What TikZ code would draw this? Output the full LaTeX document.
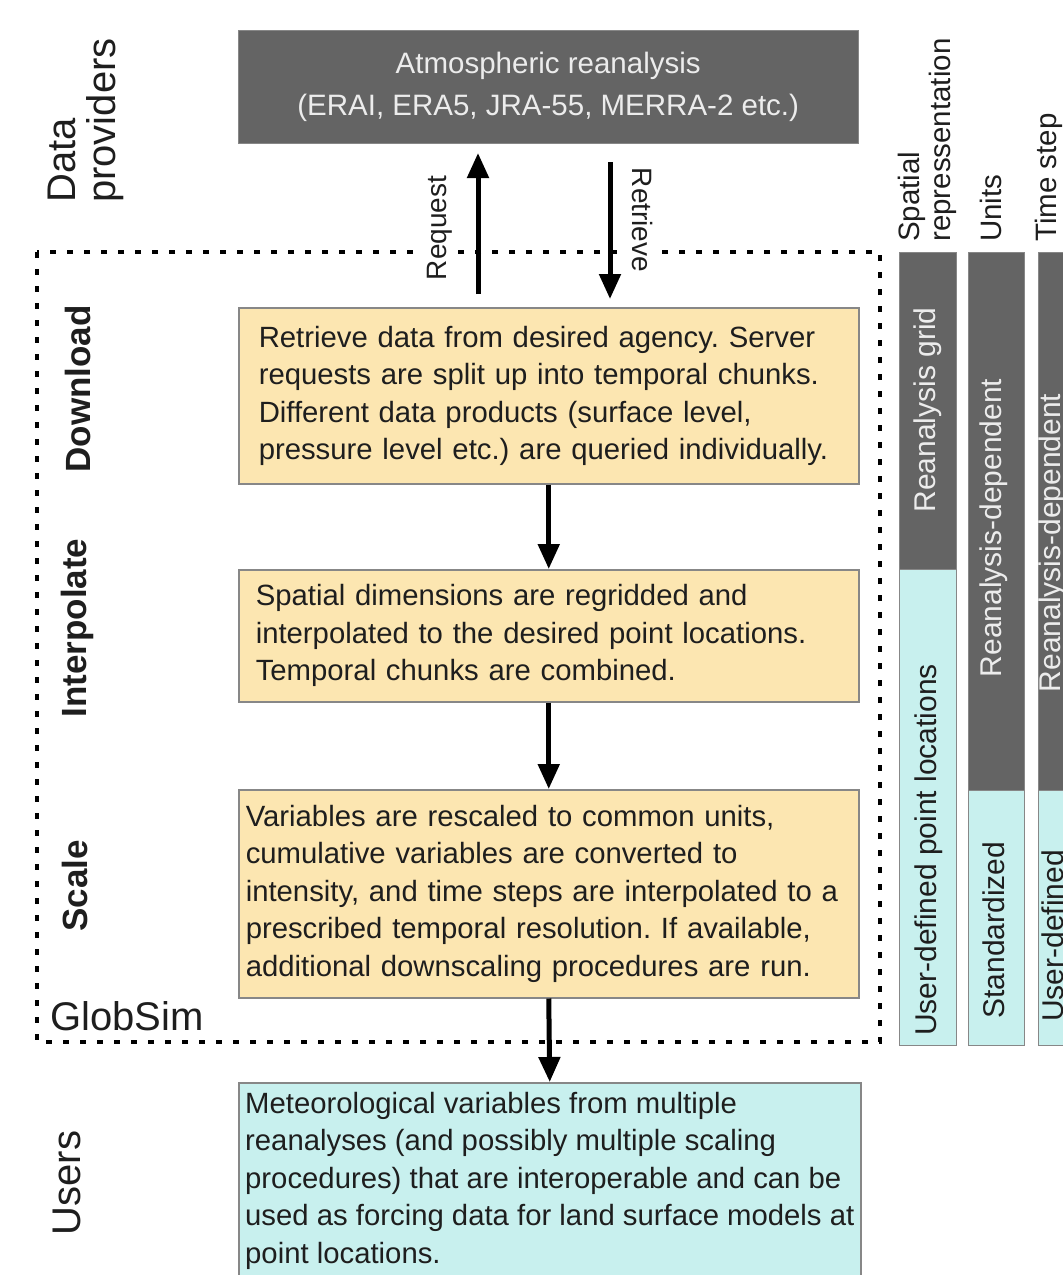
\documentclass[tikz,border=0pt]{standalone}
\usepackage{fontspec}
\setmainfont{Liberation Sans}
\usetikzlibrary{arrows.meta}
\frenchspacing

\definecolor{provgray}{RGB}{100,100,100}
\definecolor{stageyellow}{RGB}{252,230,177}
\definecolor{usercyan}{RGB}{200,240,238}
\definecolor{boxedge}{RGB}{135,135,135}
\definecolor{inktext}{RGB}{30,30,30}
\definecolor{paletext}{RGB}{236,236,236}

\begin{document}
\begin{tikzpicture}[x=1pt,y=1pt,yscale=-1,
  stagebox/.style={draw=boxedge,line width=1.5pt,fill=stageyellow,text=inktext,anchor=north west,align=left,inner ysep=0pt,font=\fontsize{29.3}{37.5}\selectfont},
  userbox/.style={stagebox,fill=usercyan},
  flow/.style={line width=5pt,-{Triangle[width=21pt,length=25pt]}},
  globframe/.style={line width=3.5pt,dash pattern=on 6pt off 11pt},
  rowlabel/.style={rotate=90,inner sep=0pt,text=inktext,font=\fontsize{40}{40}\selectfont},
  steplabel/.style={rotate=90,inner sep=0pt,text=inktext,font=\bfseries\fontsize{35}{35}\selectfont},
  colhead/.style={rotate=90,anchor=west,align=left,inner sep=0pt,text=inktext,font=\fontsize{29.5}{31}\selectfont},
  colgray/.style={draw=boxedge,line width=1pt,fill=provgray},
  colcyan/.style={draw=boxedge,line width=1pt,fill=usercyan},
  coltext/.style={rotate=90,inner sep=0pt,font=\fontsize{30}{30}\selectfont}
]
\useasboundingbox (0,0) rectangle (1063,1275);
\clip (0,0) rectangle (1063,1275);

%GlobSim frame
\draw[globframe] (37,252) rectangle (880,1042);

%Data provider
\node[draw=boxedge,fill=provgray,text=paletext,anchor=north west,minimum width=620pt,minimum height=113pt,align=center,font=\fontsize{29.5}{42}\selectfont] (reanalysis) at (238,30) {Atmospheric reanalysis\\(ERAI, ERA5, JRA-55, MERRA-2 etc.)};

%Processing steps
\node[stagebox,inner xsep=20pt,text width=580pt,minimum height=176pt] (download) at (238,307) {Retrieve data from desired agency. Server\\requests are split up into temporal chunks.\\Different data products (surface level,\\pressure level etc.) are queried individually.};
\node[stagebox,inner xsep=17pt,text width=586pt,minimum height=132pt] (interp) at (238,569) {Spatial dimensions are regridded and\\interpolated to the desired point locations.\\Temporal chunks are combined.};
\node[stagebox,inner xsep=7pt,text width=606pt,minimum height=208pt] (scale) at (238,789) {Variables are rescaled to common units,\\cumulative variables are converted to\\intensity, and time steps are interpolated to a\\prescribed temporal resolution. If available,\\additional downscaling procedures are run.};
\node[userbox,inner xsep=1pt,minimum width=622pt,minimum height=196pt] (users) at (238,1082) {Meteorological variables from multiple\\reanalyses (and possibly multiple scaling\\procedures) that are interoperable and can be\\used as forcing data for land surface models at\\point locations.};

%Request / Retrieve
\node[rotate=90,fill=white,inner sep=5pt,text=inktext,font=\fontsize{28}{28}\selectfont] (request) at (440,228) {Request};
\node[rotate=-90,fill=white,inner sep=5pt,text=inktext,font=\fontsize{28}{28}\selectfont] (retrieve) at (643,220) {Retrieve};
\coordinate (reqfoot) at (478,294);
\coordinate (reqhead) at (478,153);
\coordinate (retfoot) at (610,162);
\coordinate (rethead) at (610,299);
\draw[flow] (reqfoot) -- (reqhead);
\draw[flow] (retfoot) -- (rethead);

%Flow between steps
\draw[flow] (download.south) -- (interp.north);
\draw[flow] (interp.south) -- (scale.north);
\draw[flow] (scale.south) -- (users.north);

%Row labels
\node[rowlabel,anchor=west,align=left] (providers) at (86,203) {Data\\providers};
\node[steplabel] (dlstep) at (78,389) {Download};
\node[steplabel] (ipstep) at (77,628) {Interpolate};
\node[steplabel] (scstep) at (75,886) {Scale};
\node[rowlabel] (userstep) at (67,1183) {Users};
\node[anchor=base west,inner sep=0pt,text=inktext,font=\fontsize{40}{40}\selectfont] (globsim) at (50,1030) {GlobSim};

%Columns
\node[colhead] (spatialhd) at (927,242) {Spatial\\repressentation};
\node[colhead] (unitshd) at (991,242) {Units};
\node[colhead] (timehd) at (1049,242) {Time step};

\draw[colgray] (899,252) rectangle (956,569);
\draw[colcyan] (899,569) rectangle (956,1045);
\draw[colgray] (968,252) rectangle (1024,790);
\draw[colcyan] (968,790) rectangle (1024,1045);
\draw[colgray] (1038,252) rectangle (1096,790);
\draw[colcyan] (1038,790) rectangle (1096,1045);

\node[coltext,text=paletext] (gridtxt) at (928,410) {Reanalysis grid};
\node[coltext,text=inktext] (pointtxt) at (929,850) {User-defined point locations};
\node[coltext,text=paletext] (unitsdep) at (994,528) {Reanalysis-dependent};
\node[coltext,text=inktext] (unitsstd) at (994,930) {Standardized};
\node[coltext,text=paletext] (timedep) at (1053,543) {Reanalysis-dependent};
\node[coltext,text=inktext] (timeuser) at (1053,936) {User-defined};
\end{tikzpicture}
\end{document}
